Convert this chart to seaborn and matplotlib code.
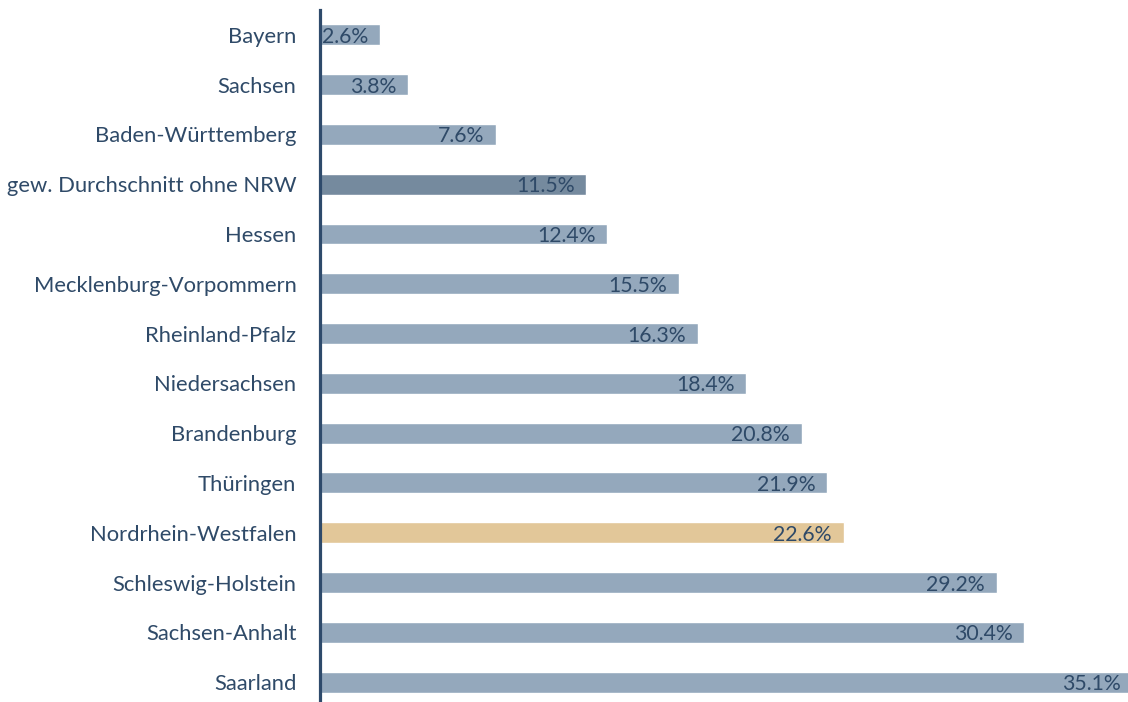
import numpy as np
import pandas as pd
import matplotlib.pyplot as plt
import seaborn as sns

laender = ["Bayern", "Sachsen", "Baden-Württemberg", "gew. Durchschnitt ohne NRW",
           "Hessen", "Mecklenburg-Vorpommern", "Rheinland-Pfalz", "Niedersachsen",
           "Brandenburg", "Thüringen", "Nordrhein-Westfalen", "Schleswig-Holstein",
           "Sachsen-Anhalt", "Saarland"]
werte = [2.6, 3.8, 7.6, 11.5, 12.4, 15.5, 16.3, 18.4, 20.8, 21.9, 22.6, 29.2, 30.4, 35.1]

# colours: normal bars, average bar, NRW highlight
c_normal = "#94A8BC"
c_avg = "#758A9E"
c_nrw = "#E2C799"
c_text = "#2F4A68"

farben = []
for name in laender:
    if name == "Nordrhein-Westfalen":
        farben.append(c_nrw)
    elif name.startswith("gew."):
        farben.append(c_avg)
    else:
        farben.append(c_normal)

df = pd.DataFrame({"land": laender, "wert": werte})

sns.set_style("white")
plt.rcParams['font.family'] = ['Lato', 'DejaVu Sans']

fig = plt.figure(figsize=(11.28, 7.02), dpi=100)
ax = fig.add_axes([320 / 1128, 0, 808 / 1128, 692 / 702])

sns.barplot(data=df, y="land", x="wert", hue="land", palette=farben,
            orient="h", width=0.42, legend=False, ax=ax, saturation=1)

for i, v in enumerate(werte):
    ax.annotate(f"{v}%", xy=(v, i), xytext=(-12, -2), textcoords="offset pixels",
                ha="right", va="center", fontsize=15.3, color=c_text,
                annotation_clip=False)

ax.set_xlim(0, 808 / 23.17)
ax.set_ylim(13.4, -0.5)
ax.set_xlabel("")
ax.set_ylabel("")
ax.set_xticks([])
ax.tick_params(axis="y", length=0, pad=17, labelsize=15.8, labelcolor=c_text)

for s in ["top", "right", "bottom"]:
    ax.spines[s].set_visible(False)
ax.spines["left"].set_color("#2E4A6B")
ax.spines["left"].set_linewidth(2.3)

fig.savefig("out.png", dpi=100)
